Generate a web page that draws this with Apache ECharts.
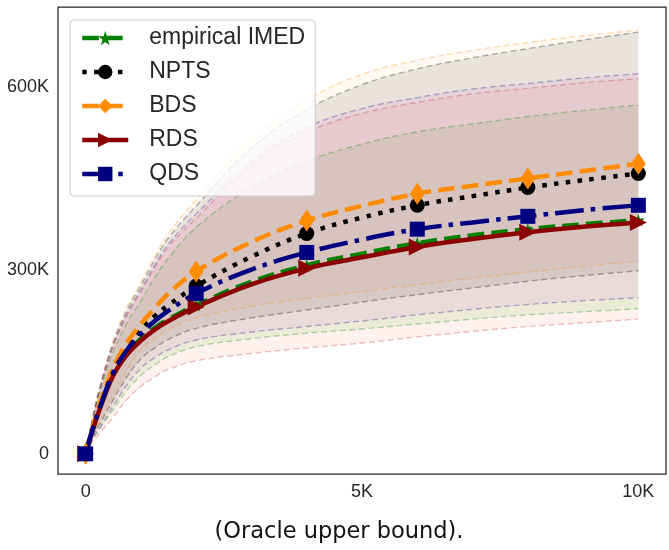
<!DOCTYPE html>
<html>
<head>
<meta charset="utf-8">
<script src="https://cdn.jsdelivr.net/npm/echarts@6/dist/echarts.min.js"></script>
<style>html,body{margin:0;padding:0;background:#fff;}#c{width:669px;height:550px;}</style>
</head>
<body>
<div id="c"></div>
<script>
// time steps
const xs = [0, 125, 250, 500, 750, 1000, 1250, 1500, 2000, 3000, 4000, 5000, 6000, 7000, 8000, 9000, 10000];
const markerXs = [0, 2000, 4000, 6000, 8000, 10000];
// mean regret (thousands)
const imedMean = [0, 38, 73, 130, 165, 188, 206, 220, 243, 281, 308, 327, 344, 357, 367, 375, 382];
const nptsMean = [0, 41, 76, 136, 174, 202, 225, 243, 274, 322, 360, 386, 406, 421, 435, 447, 458];
const bdsMean  = [0, 43, 80, 141, 182, 212, 238, 262, 298, 346, 381, 405, 425, 438, 450, 462, 474];
const rdsMean  = [0, 38, 72, 128, 162, 185, 203, 217, 240, 277, 303, 321, 338, 351, 362, 371, 378];
const qdsMean  = [0, 40, 74, 133, 170, 196, 217, 234, 262, 301, 329, 350, 367, 378, 388, 398, 406];
// band upper edges (thousands)
const imedHi = [0, 53, 98, 166, 214, 250, 288, 320, 370, 435, 478, 506, 526, 539, 551, 561, 570];
const nptsHi = [0, 57, 106, 182, 235, 275, 317, 353, 405, 500, 562, 603, 629, 647, 662, 676, 689];
const bdsHi  = [0, 58, 108, 185, 240, 280, 323, 360, 415, 513, 578, 620, 643, 659, 672, 683, 692];
const rdsHi  = [0, 55, 102, 175, 226, 264, 304, 338, 385, 470, 525, 556, 574, 588, 597, 606, 613];
const qdsHi  = [0, 56, 104, 178, 229, 268, 308, 343, 392, 477, 533, 564, 582, 596, 605, 614, 621];
// band lower edges (thousands)
const imedLo = [0, 24, 40, 72, 104, 128, 145, 159, 175, 188, 197, 204, 212, 220, 227, 232, 237];
const nptsLo = [0, 28, 48, 88, 126, 155, 173, 187, 205, 222, 235, 248, 260, 271, 282, 291, 299];
const bdsLo  = [0, 30, 52, 95, 137, 170, 188, 203, 222, 241, 254, 265, 276, 287, 297, 306, 315];
const rdsLo  = [0, 20, 33, 60, 89, 110, 126, 138, 152, 164, 173, 181, 191, 200, 208, 214, 220];
const qdsLo  = [0, 25, 42, 78, 113, 140, 157, 170, 186, 199, 208, 217, 227, 236, 244, 250, 255];
// tick labels
const xTickValues = [0, 5000, 10000];
const xTickLabels = ['0', '5K', '10K'];
const yTickValues = [0, 300, 600];
const yTickLabels = ['0', '300K', '600K'];
const names = ['empirical IMED', 'NPTS', 'BDS', 'RDS', 'QDS'];
const caption = '(Oracle upper bound).';

const LW = 4.5;
const SM = 0.4;
const star = 'path://M50,0 L61,35 L98,35 L68,57 L79,91 L50,70 L21,91 L32,57 L2,35 L39,35 Z';
const methods = [
  {name: names[0], mean: imedMean, lo: imedLo, hi: imedHi, color: '#008000', dash: [16.6, 7.2],
   symbol: star, size: 13, rot: 0, fill: 'rgba(60,190,40,0.11)', edge: 'rgba(0,140,0,0.3)'},
  {name: names[1], mean: nptsMean, lo: nptsLo, hi: nptsHi, color: '#000000', dash: [4.5, 7.4],
   symbol: 'circle', size: 15, rot: 0, fill: 'rgba(0,0,0,0.09)', edge: 'rgba(0,0,0,0.3)'},
  {name: names[2], mean: bdsMean, lo: bdsLo, hi: bdsHi, color: '#ff8c00', dash: [16.6, 7.2],
   symbol: 'diamond', size: [15, 22], rot: 0, fill: 'rgba(255,140,0,0.05)', edge: 'rgba(255,140,0,0.3)'},
  {name: names[3], mean: rdsMean, lo: rdsLo, hi: rdsHi, color: '#8b0000', dash: 'solid',
   symbol: 'triangle', size: 17, rot: -90, fill: 'rgba(255,130,90,0.1)', edge: 'rgba(200,70,70,0.35)'},
  {name: names[4], mean: qdsMean, lo: qdsLo, hi: qdsHi, color: '#000080', dash: [28.8, 7.2, 4.5, 7.2],
   symbol: 'rect', size: 15, rot: 0, fill: 'rgba(200,80,230,0.1)', edge: 'rgba(60,40,150,0.35)'}
];

const series = [];
// bands: stacked pairs; the y value is dimension 0 so that it is the stacked one
methods.forEach((m, k) => {
  series.push({
    type: 'line', name: '_lo' + k, stack: 'band' + k, smooth: SM,
    symbol: 'none', silent: true, z: 1,
    encode: {x: 1, y: 0},
    data: xs.map((x, i) => [m.lo[i], x]),
    lineStyle: {color: m.edge, width: 1.4, type: [6, 3.5]}
  });
  series.push({
    type: 'line', name: '_hi' + k, stack: 'band' + k, smooth: SM,
    symbol: 'none', silent: true, z: 1,
    encode: {x: 1, y: 0},
    data: xs.map((x, i) => [m.hi[i] - m.lo[i], x]),
    lineStyle: {color: m.edge, width: 1.4, type: [6, 3.5]},
    areaStyle: {color: m.fill, opacity: 1}
  });
});
methods.forEach((m) => {
  series.push({
    type: 'line', name: m.name, smooth: SM, z: 3,
    symbol: m.symbol, symbolSize: m.size, symbolRotate: m.rot, showAllSymbol: true,
    data: xs.map((x, i) => markerXs.indexOf(x) >= 0 ? {value: [x, m.mean[i]]} : {value: [x, m.mean[i]], symbol: 'none'}),
    lineStyle: {color: m.color, width: LW, type: m.dash, cap: 'butt'},
    itemStyle: {color: m.color, borderWidth: 0, opacity: 1}
  });
});

const chart = echarts.init(document.getElementById('c'), null, {renderer: 'canvas'});
chart.setOption({
  animation: false,
  backgroundColor: '#ffffff',
  grid: {left: 58, top: 7, right: -1, bottom: 76, show: true, borderColor: '#262626', borderWidth: 1.25, backgroundColor: 'transparent'},
  xAxis: {
    type: 'value', min: -500, max: 10500, interval: 500,
    axisLine: {show: false}, axisTick: {show: false}, splitLine: {show: false},
    axisLabel: {
      fontSize: 18, fontFamily: 'Liberation Sans', color: '#262626', margin: 9,
      formatter: v => { const j = xTickValues.indexOf(v); return j >= 0 ? xTickLabels[j] : ''; }
    }
  },
  yAxis: {
    type: 'value', min: -33, max: 730, interval: 3,
    axisLine: {show: false}, axisTick: {show: false}, splitLine: {show: false},
    axisLabel: {
      fontSize: 18, fontFamily: 'Liberation Sans', color: '#262626', margin: 9,
      formatter: v => { const j = yTickValues.indexOf(v); return j >= 0 ? yTickLabels[j] : ''; }
    }
  },
  legend: {
    data: names, orient: 'vertical', left: 70, top: 20,
    itemWidth: 46, itemHeight: 18, itemGap: 10, padding: [6, 10, 10, 10],
    backgroundColor: 'rgba(255,255,255,0.8)', borderColor: '#cccccc', borderWidth: 1, borderRadius: 4,
    selectedMode: false,
    textStyle: {fontSize: 23, fontFamily: 'Liberation Sans', color: '#262626', lineHeight: 24, padding: [0, 0, 0, 16]},
    lineStyle: {width: LW}
  },
  graphic: [{
    type: 'text', x: 339, y: 532,
    style: {text: caption, font: '22.5px "DejaVu Sans"', fill: '#111111', textAlign: 'center', textVerticalAlign: 'middle'}
  }],
  series: series
});
</script>
</body>
</html>
